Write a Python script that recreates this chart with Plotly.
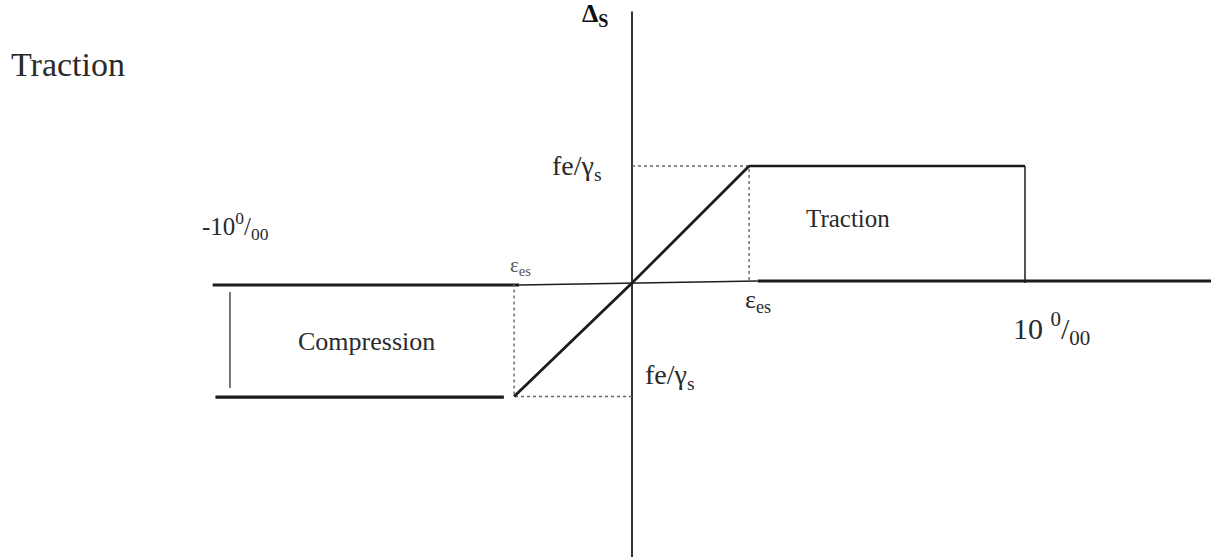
import plotly.graph_objects as go

# ---- values (strain in per-mille, stress normalised to fe/γs) ----
eps_es_pos = 2.98
eps_es_neg = -3.0
eps_lim_pos = 10.0
eps_lim_neg = -10.6
sig_top = 1.0
sig_bot = -0.97

# piecewise curve segments
bottom_plateau_x = [-10.6, -3.26]
bottom_plateau_y = [-0.976, -0.976]
diag_x = [eps_es_neg, 0.0, eps_es_pos]
diag_y = [sig_bot, 0.0, sig_top]
top_plateau_x = [eps_es_pos, eps_lim_pos, eps_lim_pos]
top_plateau_y = [sig_top, sig_top, 0.0]

# axes
axis_left_thick_x = [-10.67, -2.87]
axis_left_thick_y = [-0.017, -0.017]
axis_thin_x = [-2.87, 0.0, 3.2]
axis_thin_y = [-0.017, 0.0, 0.017]
axis_right_thick_x = [3.2, 14.74]
axis_right_thick_y = [0.017, 0.017]
vaxis_x = [0.0, 0.0]
vaxis_y = [2.32, -2.35]

# dotted projections
dot_up_x = [0.0, eps_es_pos, eps_es_pos]
dot_up_y = [sig_top, sig_top, 0.0]
dot_lo_x = [0.0, eps_es_neg, eps_es_neg]
dot_lo_y = [sig_bot, sig_bot, 0.0]

# compression bracket
bracket_x = [-10.23, -10.23]
bracket_y = [-0.077, -0.897]

INK = "#1c1c1c"
fig = go.Figure()

def seg(x, y, w, color=INK, dash="solid"):
    fig.add_trace(go.Scatter(x=x, y=y, mode="lines",
                             line=dict(color=color, width=w, dash=dash),
                             hoverinfo="skip", showlegend=False))

seg(vaxis_x, vaxis_y, 1.8)
seg(axis_thin_x, axis_thin_y, 1.5)
seg(axis_left_thick_x, axis_left_thick_y, 3.2)
seg(axis_right_thick_x, axis_right_thick_y, 3.2)
seg(dot_up_x, dot_up_y, 1.4, "#666666", "dot")
seg(dot_lo_x, dot_lo_y, 1.4, "#666666", "dot")
seg(bottom_plateau_x, bottom_plateau_y, 3.2)
seg(diag_x, diag_y, 2.8)
seg(top_plateau_x[:2], top_plateau_y[:2], 2.6)
seg(top_plateau_x[1:], top_plateau_y[1:], 1.5)
seg(bracket_x, bracket_y, 1.2)

SERIF = "Liberation Serif"
TXT = "#2a2a2a"

def txt(x, y, s, size, anchor="left", color=TXT, family=SERIF):
    fig.add_annotation(x=x, y=y, xref="x", yref="y", text=s, showarrow=False,
                       xanchor=anchor, yanchor="middle",
                       font=dict(family=family, size=size, color=color))

px = 39.3
py = 117.0
def X(p):
    return (p - 632) / px
def Y(p):
    return (283 - p) / py

txt(X(9), Y(64), "Traction", 34)
txt(X(580), Y(15), "<b>Δ<sub>S</sub></b>", 26, color="#111111")
txt(X(550), Y(167), "fe/γ<sub>s</sub>", 28)
txt(X(200), Y(226), "-10<sup>0</sup>/<sub>00</sub>", 25)
txt(X(508), Y(266), "ε<sub>es</sub>", 21, color="#555555")
txt(X(804), Y(218), "Traction", 25)
txt(X(743), Y(301), "ε<sub>es</sub>", 26)
txt(X(1011), Y(328), "10 <sup>0</sup>/<sub>00</sub>", 30)
txt(X(296), Y(341), "Compression", 26)
txt(X(643), Y(376), "fe/γ<sub>s</sub>", 28)

fig.update_layout(
    width=1211, height=557,
    margin=dict(l=0, r=0, t=0, b=0),
    paper_bgcolor="white", plot_bgcolor="white",
    xaxis=dict(range=[X(0), X(1211)], visible=False, fixedrange=True),
    yaxis=dict(range=[Y(557), Y(0)], visible=False, fixedrange=True),
    showlegend=False,
)
fig.write_html("out.html", config={"displayModeBar": False},
               post_script="document.body.style.margin='0';")
